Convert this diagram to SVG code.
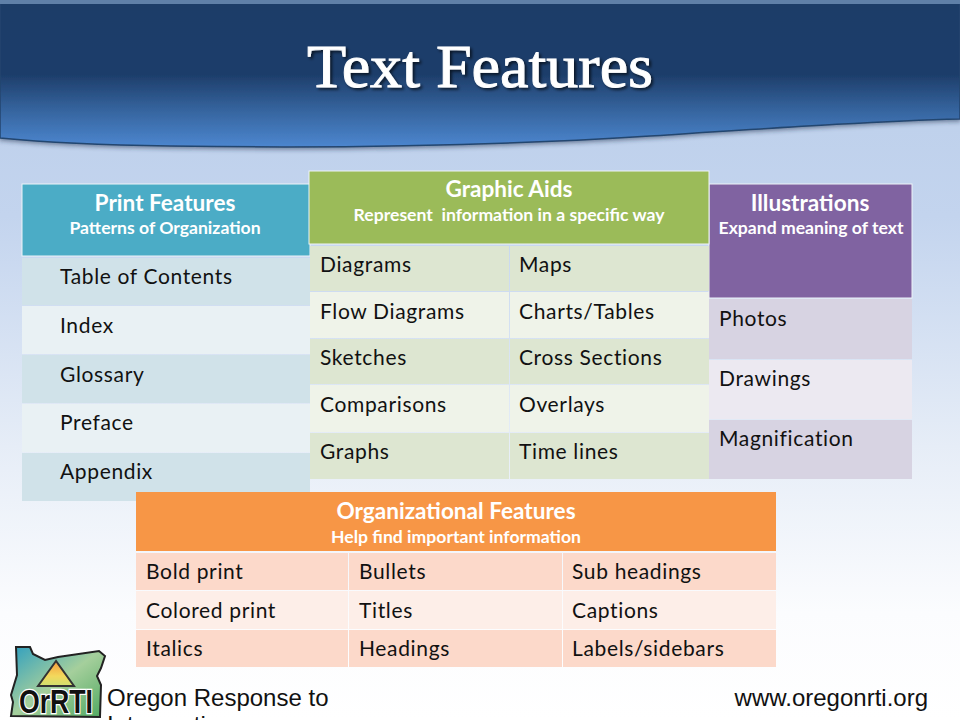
<svg xmlns="http://www.w3.org/2000/svg" width="960" height="720" viewBox="0 0 960 720">
<defs>
<linearGradient id="bg" x1="0" y1="0" x2="0" y2="1"><stop offset="0" stop-color="#b9cde9"/><stop offset="0.3" stop-color="#c3d4ee"/><stop offset="0.62" stop-color="#e6edf7"/><stop offset="0.85" stop-color="#fbfcfe"/><stop offset="1" stop-color="#ffffff"/></linearGradient>
<linearGradient id="hd" x1="0" y1="0" x2="0" y2="1"><stop offset="0" stop-color="#1e3d68"/><stop offset="0.5" stop-color="#1e3e6b"/><stop offset="0.75" stop-color="#36659f"/><stop offset="1" stop-color="#4c86cf"/></linearGradient>
<linearGradient id="logo" x1="0" y1="0" x2="1" y2="1"><stop offset="0" stop-color="#2f9fc0"/><stop offset="0.5" stop-color="#a5cf9c"/><stop offset="1" stop-color="#4fa860"/></linearGradient>
<linearGradient id="tri" x1="0" y1="0" x2="0" y2="1"><stop offset="0" stop-color="#f59a3c"/><stop offset="0.6" stop-color="#f3d85c"/><stop offset="1" stop-color="#cfe070"/></linearGradient>
<filter id="sh" x="-5%" y="-5%" width="110%" height="120%"><feDropShadow dx="0" dy="2" stdDeviation="2" flood-color="#1a2f50" flood-opacity="0.5"/></filter>
<filter id="tsh" x="-5%" y="-10%" width="110%" height="125%"><feDropShadow dx="2" dy="2" stdDeviation="1.5" flood-color="#000" flood-opacity="0.65"/></filter>
</defs>
<style>
.t{font-family:"Lato","Open Sans",sans-serif;font-size:21px;letter-spacing:.65px;fill:#111}
.h{font-family:"Lato","Open Sans",sans-serif;font-size:22.6px;font-weight:700;fill:#fff;text-anchor:middle}
.s{font-family:"Lato","Open Sans",sans-serif;font-size:17.6px;font-weight:700;fill:#fff;text-anchor:middle;white-space:pre}
.w{stroke:#eef3f8;stroke-width:1}
.f{font-family:"Liberation Sans",Arial,sans-serif;font-size:24px;fill:#111}
</style>
<rect width="960" height="720" fill="url(#bg)"/>
<g id="banner">
<path d="M0 3H960V119C880 121 790 127 650 136C480 147 300 148 170 146C90 145 40 142 0 138Z" fill="url(#hd)" stroke="#24466f" stroke-width="1.5" filter="url(#sh)"/>
<rect x="0" y="0" width="960" height="4" fill="#5f80a8"/>
<text x="480" y="87" text-anchor="middle" font-family="Liberation Serif,Times New Roman,serif" font-size="62" fill="#fff" stroke="#fff" stroke-width="0.9" filter="url(#tsh)" textLength="346" lengthAdjust="spacingAndGlyphs">Text Features</text>
</g>
<g id="illustrations">
<rect x="709" y="184" width="203" height="114" fill="#8063a1" class="w"/>
<text x="810" y="211" class="h">Illustrations</text>
<text x="811" y="234" class="s">Expand meaning of text</text>
<rect x="709" y="299" width="203" height="60" fill="#d7d3e2"/><text x="719" y="326" class="t">Photos</text>
<rect x="709" y="360" width="203" height="59" fill="#ece9f1"/><text x="719" y="386" class="t">Drawings</text>
<rect x="709" y="420" width="203" height="59" fill="#d7d3e2"/><text x="719" y="446" class="t">Magnification</text>
</g>
<g id="print-features">
<rect x="22" y="184" width="288" height="72" fill="#4bacc6" class="w"/>
<text x="165" y="211" class="h">Print Features</text>
<text x="165" y="234" class="s">Patterns of Organization</text>
<rect x="22" y="258" width="288" height="47" fill="#d0e2e9"/><text x="60" y="284" class="t">Table of Contents</text>
<rect x="22" y="306" width="288" height="48" fill="#e9f1f4"/><text x="60" y="333" class="t">Index</text>
<rect x="22" y="355" width="288" height="48" fill="#d0e2e9"/><text x="60" y="382" class="t">Glossary</text>
<rect x="22" y="404" width="288" height="48" fill="#e9f1f4"/><text x="60" y="430" class="t">Preface</text>
<rect x="22" y="453" width="288" height="48" fill="#d0e2e9"/><text x="60" y="479" class="t">Appendix</text>
</g>
<g id="graphic-aids">
<rect x="309" y="171" width="400" height="73" fill="#9bbb59" class="w"/>
<text x="509" y="197" class="h">Graphic Aids</text>
<text x="509" y="221" class="s">Represent  information in a specific way</text>
<rect x="310" y="246" width="199" height="45" fill="#dde6d1"/><rect x="510" y="246" width="199" height="45" fill="#dde6d1"/>
<rect x="310" y="292" width="199" height="46" fill="#eff3e9"/><rect x="510" y="292" width="199" height="46" fill="#eff3e9"/>
<rect x="310" y="339" width="199" height="45" fill="#dde6d1"/><rect x="510" y="339" width="199" height="45" fill="#dde6d1"/>
<rect x="310" y="385" width="199" height="47" fill="#eff3e9"/><rect x="510" y="385" width="199" height="47" fill="#eff3e9"/>
<rect x="310" y="433" width="199" height="46" fill="#dde6d1"/><rect x="510" y="433" width="199" height="46" fill="#dde6d1"/>
<text x="320" y="272" class="t">Diagrams</text><text x="519" y="272" class="t">Maps</text>
<text x="320" y="319" class="t">Flow Diagrams</text><text x="519" y="319" class="t">Charts/Tables</text>
<text x="320" y="365" class="t">Sketches</text><text x="519" y="365" class="t">Cross Sections</text>
<text x="320" y="412" class="t">Comparisons</text><text x="519" y="412" class="t">Overlays</text>
<text x="320" y="459" class="t">Graphs</text><text x="519" y="459" class="t">Time lines</text>
</g>
<g id="organizational-features">
<rect x="136" y="492" width="640" height="59" fill="#f79646"/>
<text x="456" y="519" class="h">Organizational Features</text>
<text x="456" y="543" class="s">Help find important information</text>
<rect x="136" y="553" width="212" height="37" fill="#fcd9ca"/><rect x="349" y="553" width="213" height="37" fill="#fcd9ca"/><rect x="563" y="553" width="213" height="37" fill="#fcd9ca"/>
<rect x="136" y="591" width="212" height="38" fill="#fdeee8"/><rect x="349" y="591" width="213" height="38" fill="#fdeee8"/><rect x="563" y="591" width="213" height="38" fill="#fdeee8"/>
<rect x="136" y="630" width="212" height="37" fill="#fcd9ca"/><rect x="349" y="630" width="213" height="37" fill="#fcd9ca"/><rect x="563" y="630" width="213" height="37" fill="#fcd9ca"/>
<text x="146" y="579" class="t">Bold print</text><text x="359" y="579" class="t">Bullets</text><text x="572" y="579" class="t">Sub headings</text>
<text x="146" y="618" class="t">Colored print</text><text x="359" y="618" class="t">Titles</text><text x="572" y="618" class="t">Captions</text>
<text x="146" y="656" class="t">Italics</text><text x="359" y="656" class="t">Headings</text><text x="572" y="656" class="t">Labels/sidebars</text>
</g>
<g id="logo-mark">
<path d="M16 647L30 647L33 654L45 660L58 657L99 651L105 656L101 668L97 676L101 685L100 717L11 716L13 702L11 695L17 675Z" fill="url(#logo)" stroke="#222" stroke-width="2"/>
<path d="M56 661L38 686L74 686Z" fill="url(#tri)" stroke="#333" stroke-width="2"/>
<text x="56" y="713" text-anchor="middle" font-family="Liberation Sans,Arial,sans-serif" font-weight="700" font-size="33" fill="#111" stroke="#fff" stroke-width="2.5" paint-order="stroke" textLength="74" lengthAdjust="spacingAndGlyphs">OrRTI</text>
</g>
<g id="footer">
<text x="107" y="706" class="f">Oregon Response to</text>
<text x="107" y="733" class="f">Intervention</text>
<text x="928" y="706" class="f" text-anchor="end">www.oregonrti.org</text>
</g>
</svg>
